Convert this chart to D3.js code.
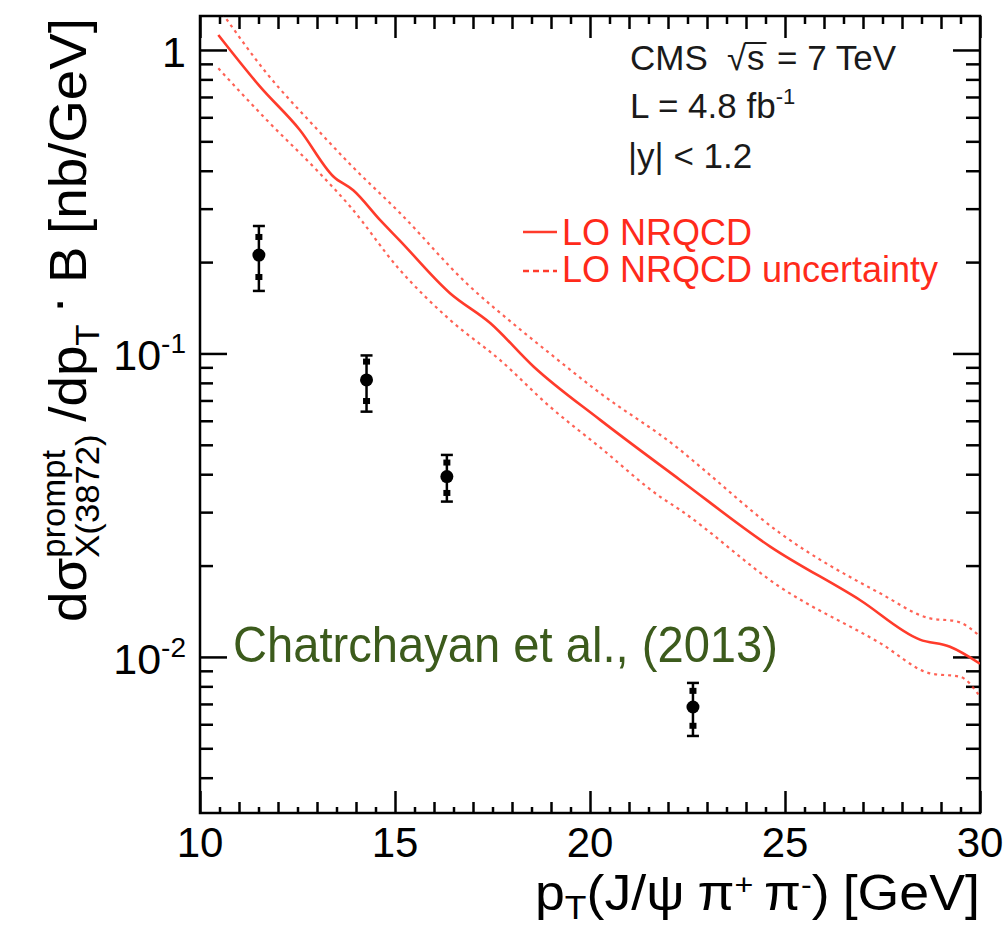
<!DOCTYPE html>
<html>
<head>
<meta charset="utf-8">
<script src="https://cdn.jsdelivr.net/npm/d3@7"></script>
<style>
  body { margin: 0; background: #fff; }
  svg { display: block; }
  text { font-family: "Liberation Sans", Arial, Helvetica, sans-serif; }
</style>
</head>
<body>
<svg width="1006" height="930"></svg>
<script>
// LO NRQCD prediction
const centralPt  = [10.47, 11.54, 12.56, 13.42, 13.93, 14.62, 15.13, 16.41, 17.44, 18.55, 20.26, 22.31, 24.62, 26.92, 28.46, 29.23, 30];
const centralVal = [1.12, 0.757, 0.545, 0.383, 0.345, 0.275, 0.235, 0.158, 0.126, 0.0906, 0.0604, 0.0383, 0.0231, 0.0154, 0.0114, 0.0108, 0.0095];
const upperPt  = [10.47, 11.71, 12.99, 13.85, 15.13, 16.84, 18.12, 18.97, 20.2, 22.31, 22.82, 24.87, 27.44, 28.72, 29.4, 30];
const upperVal = [1.38, 0.838, 0.55, 0.42, 0.29, 0.170, 0.1226, 0.100, 0.075, 0.0481, 0.0424, 0.0256, 0.0162, 0.0134, 0.0131, 0.0117];
const lowerPt  = [10.47, 11.71, 12.99, 13.85, 15.1, 16.41, 17.69, 18.97, 20.26, 21.8, 22.31, 24.87, 27.44, 28.72, 29.49, 30];
const lowerVal = [0.870, 0.588, 0.402, 0.305, 0.19, 0.129, 0.0952, 0.0668, 0.049, 0.0337, 0.0305, 0.0170, 0.0111, 0.00883, 0.0086, 0.0074];

// CMS data points
const dataPt  = [11.51, 14.27, 16.33, 22.64];
const dataVal = [0.211, 0.0818, 0.0393, 0.00684];
const statLo  = [0.1786, 0.0697, 0.0347, 0.00593];
const statHi  = [0.242, 0.094, 0.0437, 0.00773];
const totLo   = [0.1607, 0.0643, 0.0325, 0.00549];
const totHi   = [0.263, 0.0985, 0.0463, 0.00821];

// axes
const xMajor = [10, 15, 20, 25, 30];
const xMinor = d3.range(11, 30).filter(v => v % 5 !== 0);
const xHalf  = d3.range(10.5, 30, 1);
const yMajor = [0.01, 0.1, 1];
const yMinor = [0.004, 0.005, 0.006, 0.007, 0.008, 0.009, 0.02, 0.03, 0.04, 0.05, 0.06, 0.07, 0.08, 0.09, 0.2, 0.3, 0.4, 0.5, 0.6, 0.7, 0.8, 0.9];
const yLabels = [{v: 1, base: '1', exp: ''}, {v: 0.1, base: '10', exp: '-1'}, {v: 0.01, base: '10', exp: '-2'}];

const svg = d3.select('svg');
const pLeft = 200, pRight = 980, pTop = 16, pBottom = 813;

const x = d3.scaleLinear().domain([10, 30]).range([pLeft, pRight]);
const y = d3.scaleLog().domain([0.00306, 1.294]).range([pBottom, pTop]);

const red = '#ff3b2b';

// ticks
function ticks(axis, tr) {
  const g = svg.append('g').attr('transform', tr).call(axis);
  g.select('.domain').remove();
  g.selectAll('line').attr('stroke', '#000').attr('stroke-width', 2.5);
  return g;
}
ticks(d3.axisBottom(x).tickValues(xMajor).tickSize(-22).tickFormat(''), `translate(0,${pBottom})`);
ticks(d3.axisBottom(x).tickValues(xMinor).tickSize(-11).tickFormat(''), `translate(0,${pBottom})`);
ticks(d3.axisBottom(x).tickValues(xHalf).tickSize(-6).tickFormat(''), `translate(0,${pBottom})`);
ticks(d3.axisTop(x).tickValues(xMajor).tickSize(-22).tickFormat(''), `translate(0,${pTop})`);
ticks(d3.axisTop(x).tickValues(xMinor).tickSize(-13).tickFormat(''), `translate(0,${pTop})`);
ticks(d3.axisTop(x).tickValues(xHalf).tickSize(-8).tickFormat(''), `translate(0,${pTop})`);
ticks(d3.axisLeft(y).tickValues(yMajor).tickSize(-27).tickFormat(''), `translate(${pLeft},0)`);
ticks(d3.axisLeft(y).tickValues(yMinor).tickSize(-13).tickFormat(''), `translate(${pLeft},0)`);
ticks(d3.axisRight(y).tickValues(yMajor).tickSize(-27).tickFormat(''), `translate(${pRight},0)`);
ticks(d3.axisRight(y).tickValues(yMinor).tickSize(-14).tickFormat(''), `translate(${pRight},0)`);

// frame
svg.append('rect')
  .attr('x', pLeft).attr('y', pTop)
  .attr('width', pRight - pLeft).attr('height', pBottom - pTop)
  .attr('fill', 'none').attr('stroke', '#000').attr('stroke-width', 2.5);

// tick labels
svg.append('g').selectAll('text').data(xMajor).join('text')
  .attr('x', d => x(d)).attr('y', 857)
  .attr('text-anchor', 'middle').attr('font-size', 42)
  .text(d => d);

const yl = svg.append('g').selectAll('text').data(yLabels).join('text')
  .attr('x', 186).attr('y', d => y(d.v) + 17)
  .attr('text-anchor', 'end').attr('font-size', 43);
yl.append('tspan').text(d => d.base);
yl.append('tspan').attr('font-size', 28).attr('dy', -17).text(d => d.exp);

// curves
svg.append('clipPath').attr('id', 'plot')
  .append('rect').attr('x', pLeft).attr('y', pTop).attr('width', pRight - pLeft).attr('height', pBottom - pTop);

const line = d3.line()
  .x(d => x(d[0])).y(d => y(d[1]))
  .curve(d3.curveMonotoneX);

const curves = svg.append('g').attr('clip-path', 'url(#plot)');
curves.append('path')
  .attr('d', line(d3.zip(upperPt, upperVal)))
  .attr('fill', 'none').attr('stroke', red).attr('stroke-width', 2.2)
  .attr('stroke-dasharray', '3,4').attr('opacity', 0.8);
curves.append('path')
  .attr('d', line(d3.zip(lowerPt, lowerVal)))
  .attr('fill', 'none').attr('stroke', red).attr('stroke-width', 2.2)
  .attr('stroke-dasharray', '3,4').attr('opacity', 0.8);
curves.append('path')
  .attr('d', line(d3.zip(centralPt, centralVal)))
  .attr('fill', 'none').attr('stroke', red).attr('stroke-width', 2.6);

// data points with stat (inner) and total (outer) errors
const pts = svg.append('g').selectAll('g').data(dataPt.map((p, i) => i)).join('g');
pts.append('line')
  .attr('x1', i => x(dataPt[i])).attr('x2', i => x(dataPt[i]))
  .attr('y1', i => y(totLo[i])).attr('y2', i => y(totHi[i]))
  .attr('stroke', '#000').attr('stroke-width', 2.5);
[totLo, totHi].forEach(arr => {
  pts.append('line')
    .attr('x1', i => x(dataPt[i]) - 6).attr('x2', i => x(dataPt[i]) + 6)
    .attr('y1', i => y(arr[i])).attr('y2', i => y(arr[i]))
    .attr('stroke', '#000').attr('stroke-width', 2.5);
});
[statLo, statHi].forEach(arr => {
  pts.append('rect')
    .attr('x', i => x(dataPt[i]) - 3.5).attr('y', i => y(arr[i]) - 3)
    .attr('width', 7).attr('height', 6).attr('fill', '#000');
});
pts.append('circle')
  .attr('cx', i => x(dataPt[i])).attr('cy', i => y(dataVal[i]))
  .attr('r', 6.5).attr('fill', '#000');

// rich text helper: pieces placed one after another
function rich(g, parts) {
  let cx = 0;
  parts.forEach(p => {
    cx += p.gap || 0;
    const items = p.stack || [p];
    let w = 0;
    items.forEach(s => {
      const t = g.append('text').attr('x', cx).attr('y', s.dy || 0)
        .attr('font-size', s.size).text(s.t);
      w = Math.max(w, t.node().getComputedTextLength());
    });
    cx += w;
  });
  return cx;
}

// y title
const yt = svg.append('g');
const ytLen = rich(yt, [
  {t: 'dσ', size: 52},
  {stack: [{t: 'prompt', size: 33, dy: -21}, {t: 'X(3872)', size: 33, dy: 13}]},
  {t: '/dp', size: 52, gap: 12},
  {t: 'T', size: 33, dy: 13},
  {t: '·', size: 52, gap: 10, dy: -12},
  {t: 'B', size: 52, gap: 12},
  {t: '[nb/GeV]', size: 52, gap: 12}
]);
yt.attr('transform', `translate(86,622) rotate(-90) scale(${(622 - 18) / ytLen},1)`);

// x title
const xt = svg.append('g');
const xtLen = rich(xt, [
  {t: 'p', size: 50},
  {t: 'T', size: 33, dy: 9},
  {t: '(J/ψ', size: 50},
  {t: 'π', size: 50, gap: 12},
  {t: '+', size: 30, dy: -15},
  {t: 'π', size: 50, gap: 10},
  {t: '-', size: 30, dy: -15},
  {t: ')', size: 50},
  {t: '[GeV]', size: 50, gap: 12}
]);
xt.attr('transform', `translate(${980 - 445},910) scale(${445 / xtLen},1)`);

// CMS labels
const info = svg.append('g').attr('fill', '#1a1a1a').attr('font-size', 35);
info.append('text').attr('x', 630).attr('y', 70).text('CMS');
info.append('text').attr('x', 727).attr('y', 70).text('√');
const sText = info.append('text').attr('x', 747).attr('y', 70).text('s');
info.append('text').attr('x', 777).attr('y', 70).text('= 7 TeV');
info.append('line')
  .attr('x1', 745).attr('x2', 747 + sText.node().getComputedTextLength() + 2)
  .attr('y1', 43).attr('y2', 43).attr('stroke', '#1a1a1a').attr('stroke-width', 2);
const l2 = info.append('text').attr('x', 630).attr('y', 118);
l2.append('tspan').text('L = 4.8 fb');
l2.append('tspan').attr('font-size', 22).attr('dy', -14).text('-1');
info.append('text').attr('x', 628).attr('y', 168).text('|y| < 1.2');

// legend
const leg = svg.append('g');
leg.append('line').attr('x1', 523).attr('x2', 557).attr('y1', 232).attr('y2', 232)
  .attr('stroke', red).attr('stroke-width', 2.6);
leg.append('line').attr('x1', 523).attr('x2', 557).attr('y1', 271).attr('y2', 271)
  .attr('stroke', red).attr('stroke-width', 2.4).attr('stroke-dasharray', '6,4');
leg.append('text').attr('x', 562).attr('y', 245).attr('font-size', 36).attr('fill', '#ff2a1a').text('LO NRQCD');
leg.append('text').attr('x', 562).attr('y', 282).attr('font-size', 36).attr('fill', '#ff2a1a').text('LO NRQCD uncertainty');

// citation
svg.append('text')
  .attr('x', 233).attr('y', 662)
  .attr('font-family', 'Lato, "Open Sans", sans-serif')
  .attr('font-size', 50).attr('fill', '#3c5b1c')
  .attr('textLength', 545).attr('lengthAdjust', 'spacingAndGlyphs')
  .text('Chatrchayan et al., (2013)');
</script>
</body>
</html>
